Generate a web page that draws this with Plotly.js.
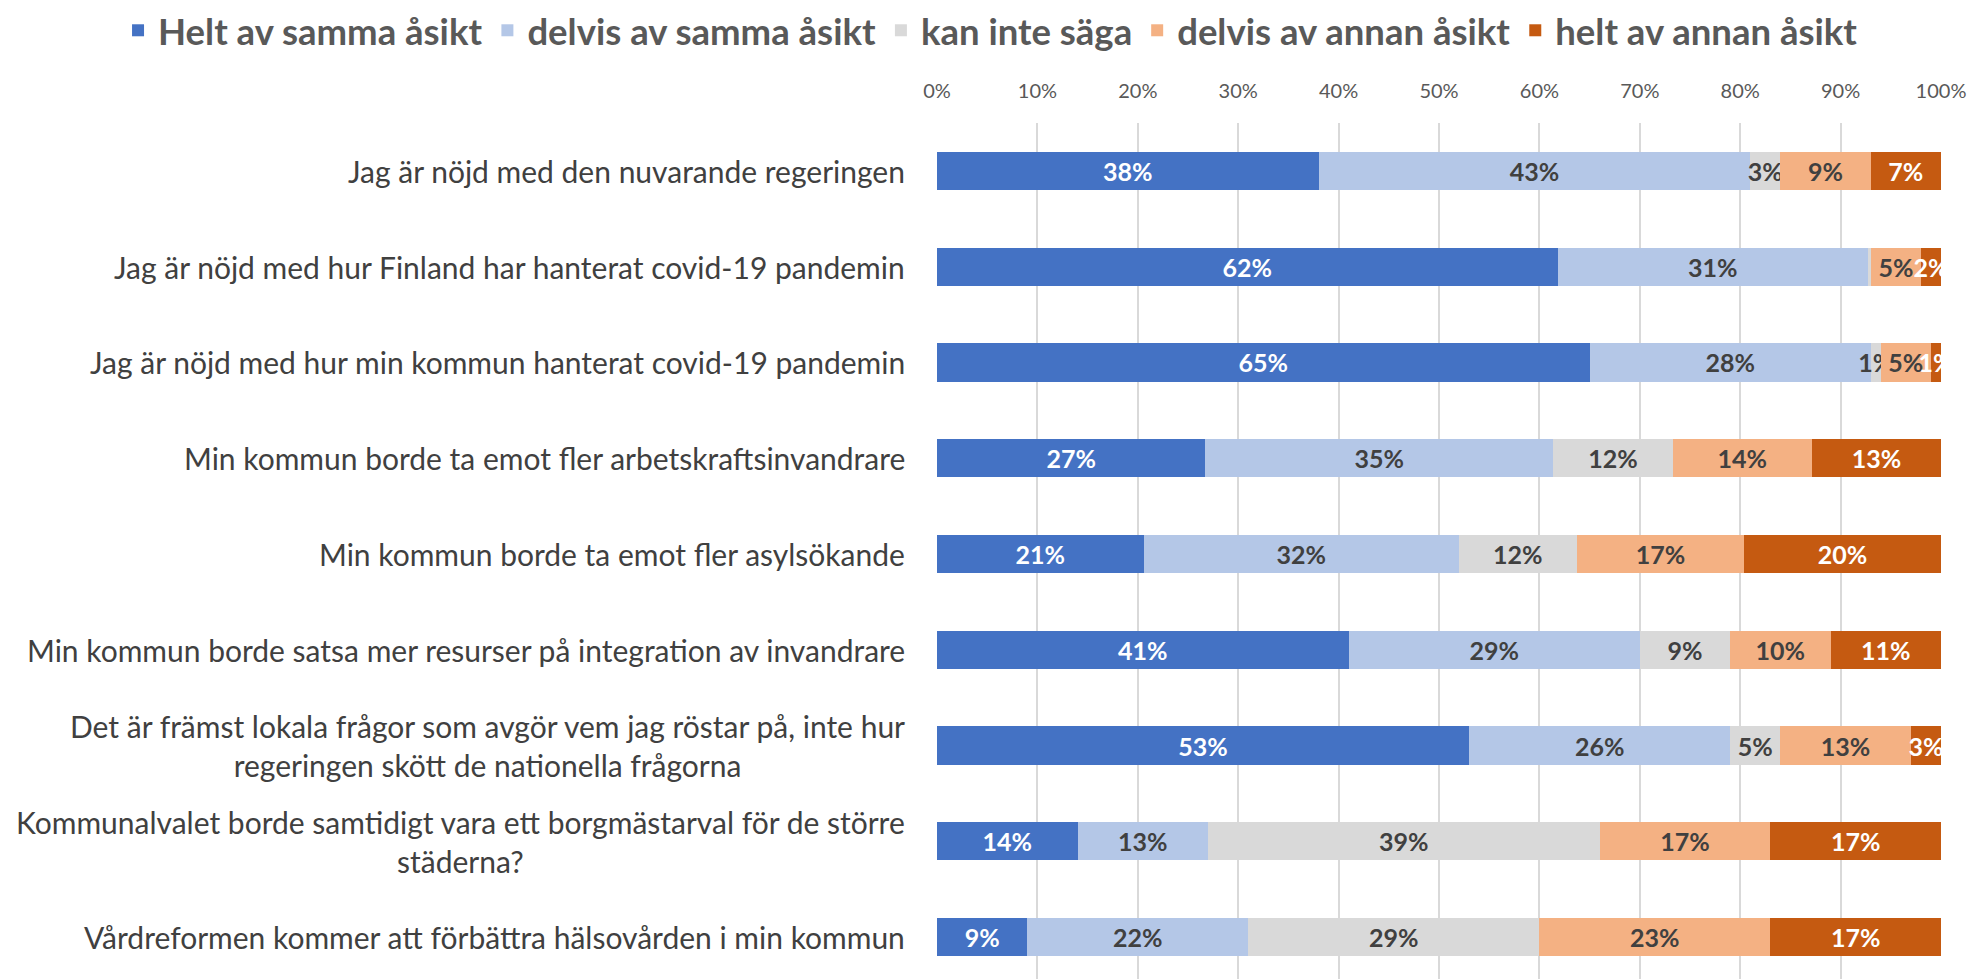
<!DOCTYPE html>
<html>
<head>
<meta charset="utf-8">
<script src="https://cdn.plot.ly/plotly-3.0.1.min.js"></script>
<style>html,body{margin:0;padding:0;background:#fff;}#chart{width:1972px;height:979px;}</style>
</head>
<body>
<div id="chart"></div>
<script>
const categories = [
  "Jag är nöjd med den nuvarande regeringen",
  "Jag är nöjd med hur Finland har hanterat covid-19 pandemin",
  "Jag är nöjd med hur min kommun hanterat covid-19 pandemin",
  "Min kommun borde ta emot fler arbetskraftsinvandrare",
  "Min kommun borde ta emot fler asylsökande",
  "Min kommun borde satsa mer resurser på integration av invandrare",
  "Det är främst lokala frågor som avgör vem jag röstar på, inte hur<br>regeringen skött de nationella frågorna",
  "Kommunalvalet borde samtidigt vara ett borgmästarval för de större<br>städerna?",
  "Vårdreformen kommer att förbättra hälsovården i min kommun"
];
const seriesNames = ["Helt av samma åsikt", "delvis av samma åsikt", "kan inte säga", "delvis av annan åsikt", "helt av annan åsikt"];
const heltSamma   = [38, 62, 65, 27, 21, 41, 53, 14, 9];
const delvisSamma = [43, 31, 28, 35, 32, 29, 26, 13, 22];
const kanInte     = [3, 0.3, 1, 12, 12, 9, 5, 39, 29];
const delvisAnnan = [9, 5, 5, 14, 17, 10, 13, 17, 23];
const heltAnnan   = [7, 2, 1, 13, 20, 11, 3, 17, 17];
const tickVals = [0, 10, 20, 30, 40, 50, 60, 70, 80, 90, 100];

const seriesValues = [heltSamma, delvisSamma, kanInte, delvisAnnan, heltAnnan];
const colors = ["#4472C4", "#B4C7E7", "#D9D9D9", "#F4B183", "#C55A11"];
const textColors = ["#FFFFFF", "#404040", "#404040", "#404040", "#FFFFFF"];
const FONT = "Lato, 'Open Sans', sans-serif";

const idx = categories.map((c, i) => i);
const traces = seriesValues.map((vals, s) => ({
  type: "bar",
  orientation: "h",
  name: seriesNames[s],
  y: idx,
  x: vals,
  text: vals.map(v => v >= 0.5 ? Math.round(v) + "%" : ""),
  textposition: "inside",
  insidetextanchor: "middle",
  constraintext: "none",
  textangle: 0,
  textfont: {family: FONT, size: 25, weight: "bold", color: textColors[s]},
  marker: {color: colors[s], line: {width: 0}},
  hoverinfo: "skip"
}));

const annotations = categories.map((c, i) => ({
  text: c,
  xref: "paper", yref: "y",
  x: 0, y: i,
  xanchor: "right", yanchor: "middle",
  xshift: -30,
  align: "center",
  showarrow: false,
  font: {family: FONT, size: 30, color: "#404040"}
}));

const layout = {
  width: 1972,
  height: 979,
  margin: {l: 937, r: 31, t: 121, b: 0, pad: 0},
  paper_bgcolor: "#FFFFFF",
  plot_bgcolor: "#FFFFFF",
  barmode: "stack",
  barnorm: "percent",
  bargap: 0.6,
  showlegend: true,
  legend: {
    orientation: "h",
    xref: "paper", yref: "paper",
    x: -0.8157, xanchor: "left",
    y: 1.108, yanchor: "middle",
    traceorder: "normal",
    font: {family: FONT, size: 36.5, weight: "bold", color: "#595959"},
    itemclick: false
  },
  xaxis: {
    side: "top",
    range: [0, 100],
    tickvals: tickVals,
    ticktext: tickVals.map(v => v + "%"),
    ticks: "outside",
    ticklen: 16,
    tickcolor: "rgba(0,0,0,0)",
    tickfont: {family: FONT, size: 20, color: "#595959"},
    showgrid: true,
    gridcolor: "#D9D9D9",
    gridwidth: 2,
    zeroline: false,
    showline: false,
    fixedrange: true
  },
  yaxis: {
    type: "linear",
    range: [8.4375, -0.5],
    showticklabels: false,
    showgrid: false,
    zeroline: false,
    showline: false,
    ticks: "",
    fixedrange: true
  },
  annotations: annotations
};

Plotly.newPlot("chart", traces, layout, {displayModeBar: false, staticPlot: true});
</script>
</body>
</html>
